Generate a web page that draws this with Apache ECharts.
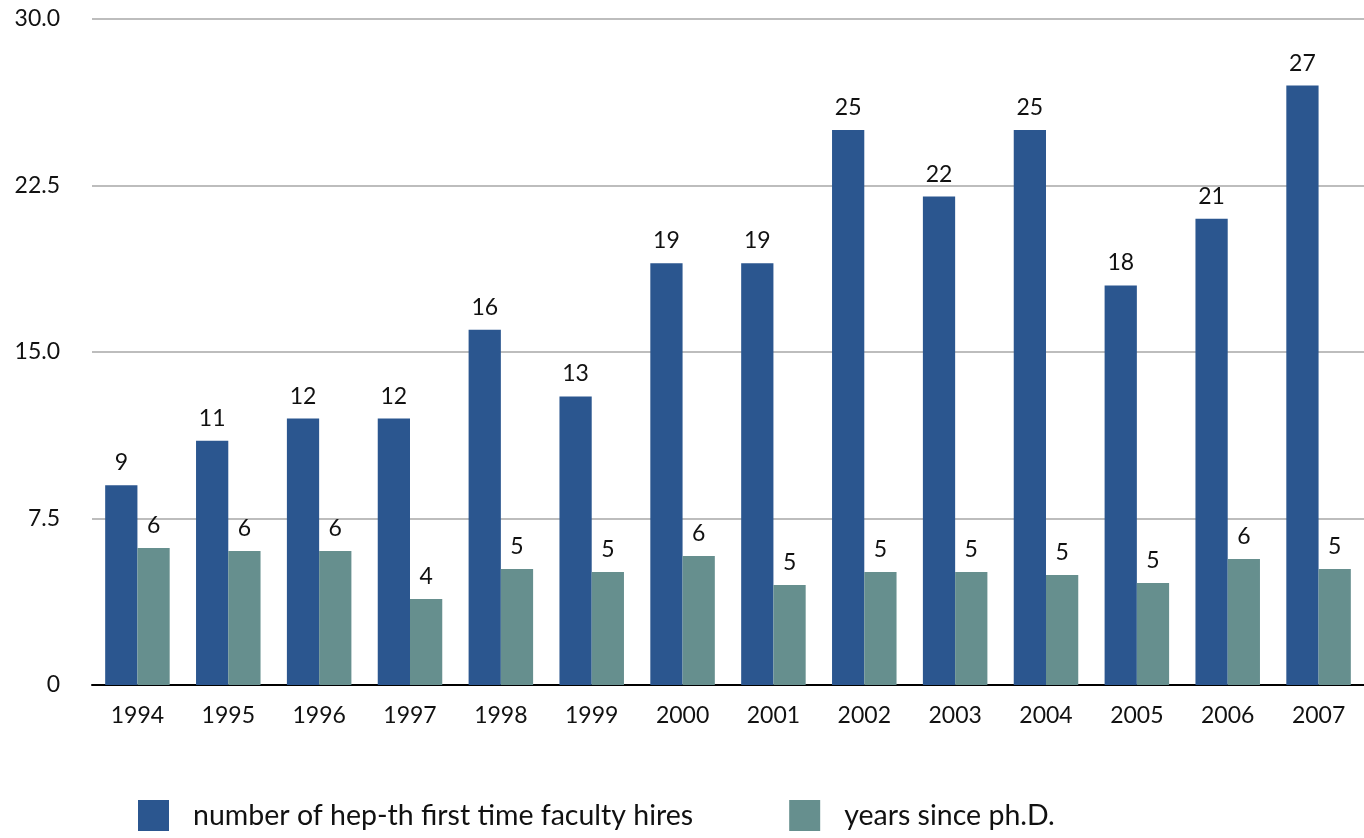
<!DOCTYPE html>
<html><head><meta charset="utf-8">
<script src="https://cdn.jsdelivr.net/npm/echarts@6/dist/echarts.min.js"></script>
<style>html,body{margin:0;padding:0;background:#fff}#c{width:1364px;height:838px}</style>
</head><body><div id="c"></div>
<script>
const years = ['1994','1995','1996','1997','1998','1999','2000','2001','2002','2003','2004','2005','2006','2007'];
const hires = [9, 11, 12, 12, 16, 13, 19, 19, 25, 22, 25, 18, 21, 27];
const yearsSincePhD = [6.17, 6.04, 6.04, 3.87, 5.23, 5.09, 5.81, 4.5, 5.09, 5.09, 4.95, 4.59, 5.68, 5.23];
const yTicks = {0: '0', 7.5: '7.5', 15: '15.0', 22.5: '22.5', 30: '30.0'};
const seriesNames = ['number of hep-th first time faculty hires', 'years since ph.D.'];

const FONT = 'Lato, "Open Sans", sans-serif';
const chart = echarts.init(document.getElementById('c'));
const lbl = {show: true, position: 'top', distance: 11, color: '#111', fontSize: 23, fontFamily: FONT,
  formatter: p => String(Math.round(p.value))};
chart.setOption({
  animation: false,
  textStyle: {fontFamily: FONT},
  grid: {left: 92, right: 0, top: 19, bottom: 153, containLabel: false},
  legend: {
    bottom: 7, left: 138, padding: 0, itemWidth: 31, itemHeight: 31, itemGap: 96,
    icon: 'rect',
    textStyle: {fontSize: 28.5, color: '#111', fontFamily: FONT, padding: [0, 0, 0, 19]},
    data: seriesNames
  },
  xAxis: {
    type: 'category', data: years,
    axisLine: {lineStyle: {color: '#000', width: 2}},
    axisTick: {show: false},
    axisLabel: {color: '#111', fontSize: 23, margin: 19, fontFamily: FONT}
  },
  yAxis: {
    type: 'value', min: 0, max: 30, interval: 7.5,
    axisLine: {show: false}, axisTick: {show: false},
    axisLabel: {color: '#111', fontSize: 23, margin: 32, fontFamily: FONT,
      formatter: v => yTicks[v] !== undefined ? yTicks[v] : String(v)},
    splitLine: {lineStyle: {color: '#bdbdbd', width: 2}}
  },
  series: [
    {name: seriesNames[0], type: 'bar', data: hires, barGap: '0%', barCategoryGap: '29%',
     itemStyle: {color: '#2B568F'}, label: lbl},
    {name: seriesNames[1], type: 'bar', data: yearsSincePhD,
     itemStyle: {color: '#668F8E'}, label: lbl}
  ]
});
</script></body></html>
